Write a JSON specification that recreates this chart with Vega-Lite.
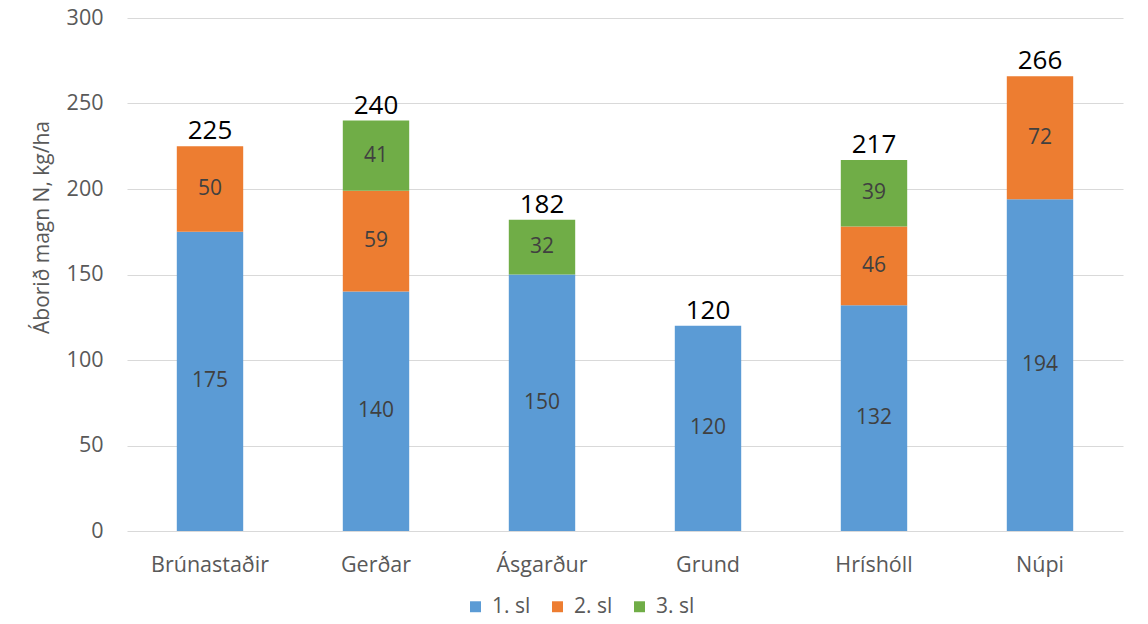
{
  "$schema": "https://vega.github.io/schema/vega-lite/v6.json",
  "width": 996,
  "height": 513,
  "autosize": {"type": "none"},
  "padding": {"left": 127, "top": 18, "right": 25, "bottom": 93},
  "background": "white",
  "config": {
    "view": {"stroke": null},
    "font": "Open Sans",
    "axis": {"labelFont": "Open Sans", "titleFont": "Open Sans", "labelColor": "#595959", "titleColor": "#595959"},
    "legend": {"labelFont": "Open Sans"}
  },
  "data": {
    "values": [
      {"site": "Brúnastaðir", "sl": "1. sl", "value": 175},
      {"site": "Brúnastaðir", "sl": "2. sl", "value": 50},
      {"site": "Gerðar", "sl": "1. sl", "value": 140},
      {"site": "Gerðar", "sl": "2. sl", "value": 59},
      {"site": "Gerðar", "sl": "3. sl", "value": 41},
      {"site": "Ásgarður", "sl": "1. sl", "value": 150},
      {"site": "Ásgarður", "sl": "3. sl", "value": 32},
      {"site": "Grund", "sl": "1. sl", "value": 120},
      {"site": "Hríshóll", "sl": "1. sl", "value": 132},
      {"site": "Hríshóll", "sl": "2. sl", "value": 46},
      {"site": "Hríshóll", "sl": "3. sl", "value": 39},
      {"site": "Núpi", "sl": "1. sl", "value": 194},
      {"site": "Núpi", "sl": "2. sl", "value": 72}
    ]
  },
  "encoding": {
    "x": {
      "field": "site",
      "type": "nominal",
      "sort": null,
      "scale": {"paddingInner": 0.6, "paddingOuter": 0.3},
      "axis": {"title": null, "labelAngle": 0, "labelFontSize": 21.5, "labelPadding": 23, "ticks": false, "domain": false}
    },
    "y": {
      "field": "value",
      "type": "quantitative",
      "stack": "zero",
      "scale": {"domain": [0, 300]},
      "axis": {
        "title": "Áborið magn N, kg/ha",
        "titleFontSize": 21,
        "titleFontWeight": "normal",
        "titleX": -85,
        "titleY": 209,
        "titleAngle": -90,
        "titleBaseline": "middle",
        "titleAlign": "center",
        "labelFontSize": 21.5,
        "labelPadding": 24,
        "ticks": false,
        "domain": false,
        "tickCount": 6,
        "labelOverlap": false,
        "gridColor": "#D9D9D9",
        "gridWidth": 1
      }
    }
  },
  "layer": [
    {
      "mark": {"type": "bar"},
      "encoding": {
        "color": {
          "field": "sl",
          "type": "nominal",
          "scale": {"domain": ["1. sl", "2. sl", "3. sl"], "range": ["#5B9BD5", "#ED7D31", "#70AD47"]},
          "legend": {
            "title": null,
            "orient": "none",
            "legendX": 338,
            "legendY": 578,
            "direction": "horizontal",
            "labelFontSize": 21,
            "labelColor": "#595959",
            "labelOffset": 6,
            "symbolType": "square",
            "symbolSize": 120,
            "symbolStrokeWidth": 0,
            "columnPadding": 16
          }
        },
        "order": {"field": "sl", "sort": "ascending"}
      }
    },
    {
      "mark": {"type": "text", "fontSize": 21, "color": "#404040", "baseline": "middle"},
      "encoding": {
        "y": {
          "field": "value",
          "type": "quantitative",
          "stack": "zero",
          "bandPosition": 0.5
        },
        "detail": {"field": "sl", "type": "nominal"},
        "order": {"field": "sl", "sort": "ascending"},
        "text": {"field": "value", "type": "quantitative"}
      }
    },
    {
      "mark": {"type": "text", "fontSize": 26, "color": "#000000", "baseline": "bottom", "dy": -2},
      "encoding": {
        "y": {"aggregate": "sum", "field": "value", "type": "quantitative"},
        "text": {"aggregate": "sum", "field": "value", "type": "quantitative"}
      }
    }
  ]
}
